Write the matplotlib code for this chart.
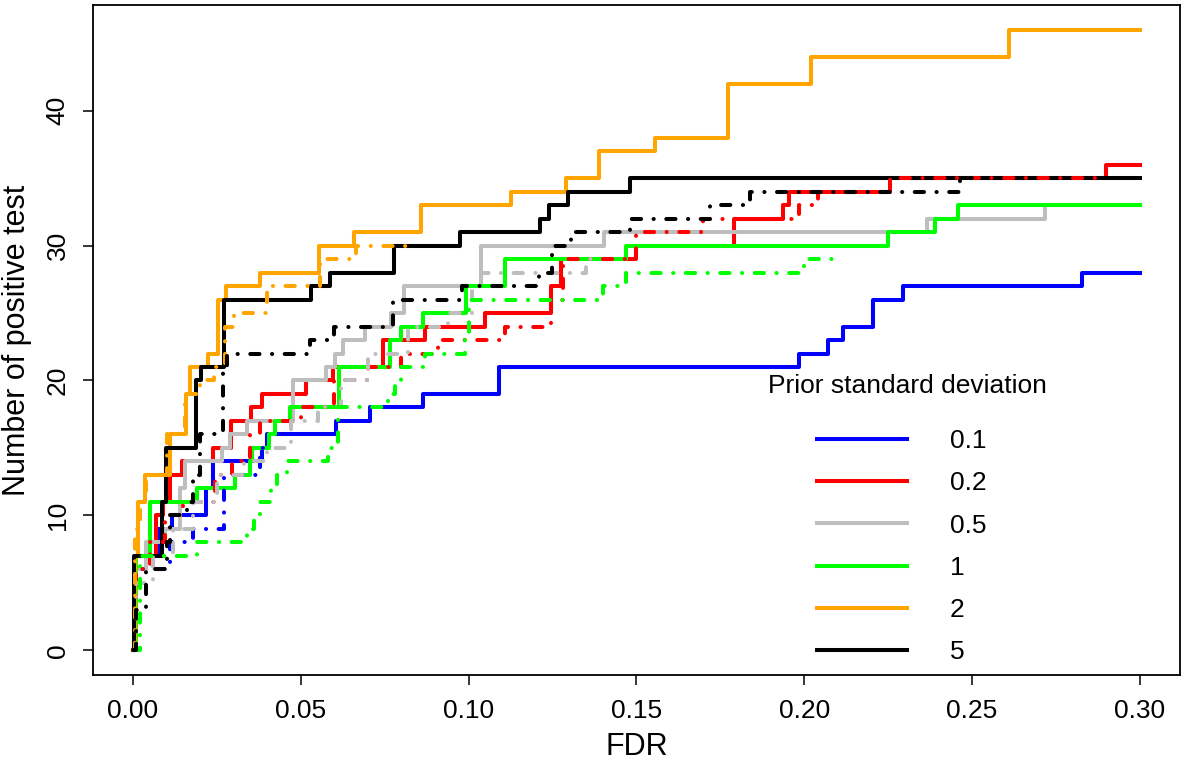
import matplotlib
matplotlib.use("Agg")
import matplotlib.pyplot as plt

plt.rcParams['font.family'] = ['Liberation Sans', 'DejaVu Sans']

# Dados: FDR (x) e número de testes positivos (y), em escada
sd_labels = ['0.1', '0.2', '0.5', '1', '2', '5']
cores = ['#0000FF', '#FF0000', '#BEBEBE', '#00FF00', '#FFA500', '#000000']

# linhas contínuas
blue_x = [0, 0.0005, 0.0075, 0.0115, 0.0219, 0.0239, 0.0385, 0.040, 0.0606, 0.0705, 0.0864, 0.109,
          0.1985, 0.207, 0.2117, 0.2205, 0.2294, 0.2827, 0.30]
blue_y = [0, 7, 9, 10, 12, 14, 15, 16, 17, 18, 19, 21, 22, 23, 24, 26, 27, 28, 28]

red_x = [0, 0.0005, 0.007, 0.009, 0.011, 0.0145, 0.0237, 0.0293, 0.0353, 0.0383, 0.0517, 0.0595,
         0.0745, 0.0869, 0.1048, 0.1246, 0.1276, 0.150, 0.179, 0.1938, 0.1955, 0.2255, 0.290, 0.30]
red_y = [0, 7, 10, 11, 13, 14, 15, 17, 18, 19, 20, 21, 23, 24, 25, 27, 29, 30, 32, 33, 34, 35, 36, 36]

grey_x = [0, 0.0005, 0.004, 0.0095, 0.014, 0.0155, 0.0264, 0.029, 0.034, 0.0476, 0.0576, 0.0602,
          0.0625, 0.069, 0.077, 0.0807, 0.1037, 0.1405, 0.2365, 0.2717, 0.30]
grey_y = [0, 6, 8, 9, 12, 14, 15, 16, 17, 20, 21, 22, 23, 24, 25, 27, 30, 31, 32, 33, 33]

green_x = [0, 0.001, 0.005, 0.019, 0.0304, 0.0348, 0.0355, 0.0405, 0.0423, 0.0467, 0.0615, 0.0765,
           0.080, 0.0863, 0.0993, 0.111, 0.147, 0.225, 0.239, 0.246, 0.30]
green_y = [0, 7, 11, 12, 13, 14, 15, 16, 17, 18, 21, 23, 24, 25, 27, 29, 30, 31, 32, 33, 33]

orange_x = [0, 0.0005, 0.0016, 0.0036, 0.011, 0.0157, 0.017, 0.0224, 0.0254, 0.0276, 0.038, 0.0554,
            0.0658, 0.0859, 0.1127, 0.129, 0.139, 0.1557, 0.1773, 0.2021, 0.261, 0.30]
orange_y = [0, 7, 11, 13, 16, 19, 21, 22, 26, 27, 28, 30, 31, 33, 34, 35, 37, 38, 42, 44, 46, 46]

black_x = [0, 0.0004, 0.0085, 0.0098, 0.0188, 0.0204, 0.027, 0.053, 0.0588, 0.0777, 0.0975, 0.1213,
           0.124, 0.1295, 0.148, 0.30]
black_y = [0, 7, 11, 15, 20, 21, 26, 27, 28, 30, 31, 32, 33, 34, 35, 35]

# linhas traço-ponto
blue2_x = [0, 0.001, 0.011, 0.018, 0.027, 0.038, 0.041]
blue2_y = [0, 6, 8, 9, 13, 15, 15]

red2_x = [0, 0.001, 0.005, 0.0095, 0.015, 0.0244, 0.0294, 0.0348, 0.038, 0.050, 0.060, 0.070, 0.080,
          0.091, 0.111, 0.1246, 0.128, 0.150, 0.170, 0.1985, 0.204, 0.2255, 0.290]
red2_y = [0, 6, 8, 10, 11, 13, 14, 16, 17, 18, 20, 21, 22, 23, 24, 26, 29, 31, 32, 33, 34, 35, 35]

grey2_x = [0, 0.001, 0.006, 0.012, 0.018, 0.025, 0.033, 0.040, 0.047, 0.055, 0.062, 0.070, 0.082,
           0.094, 0.101, 0.1037, 0.135, 0.137]
grey2_y = [0, 5, 7, 9, 11, 13, 14, 15, 17, 18, 20, 22, 24, 25, 27, 28, 29, 29]

green2_x = [0, 0.002, 0.019, 0.034, 0.036, 0.038, 0.041, 0.043, 0.046, 0.058, 0.061, 0.076, 0.078,
            0.080, 0.087, 0.099, 0.100, 0.140, 0.147, 0.200, 0.209]
green2_y = [0, 7, 8, 9, 10, 11, 12, 13, 14, 15, 18, 19, 20, 21, 22, 23, 26, 27, 28, 29, 29]

orange2_x = [0, 0.0005, 0.002, 0.004, 0.010, 0.0155, 0.020, 0.024, 0.0274, 0.030, 0.040, 0.0557,
             0.0666, 0.0834]
orange2_y = [0, 9, 11, 13, 16, 19, 20, 21, 24, 25, 27, 29, 30, 30]

black2_x = [0, 0.001, 0.004, 0.010, 0.011, 0.016, 0.018, 0.020, 0.0267, 0.0279, 0.0527, 0.060,
            0.0775, 0.098, 0.121, 0.125, 0.1305, 0.148, 0.172, 0.184, 0.2465, 0.250]
black2_y = [0, 3, 6, 8, 10, 11, 13, 16, 21, 22, 23, 24, 26, 27, 28, 30, 31, 32, 33, 34, 35, 35]

continuas = [(blue_x, blue_y), (red_x, red_y), (grey_x, grey_y),
             (green_x, green_y), (orange_x, orange_y), (black_x, black_y)]
tracejadas = [(blue2_x, blue2_y), (red2_x, red2_y), (grey2_x, grey2_y),
              (green2_x, green2_y), (orange2_x, orange2_y), (black2_x, black2_y)]

# Configuração da figura
fig = plt.figure(figsize=(11.84, 7.6), dpi=100)
ax = fig.add_axes([0.0783, 0.1118, 0.9183, 0.8816])
lw = 2.9

handles = []
for (x, y), c, lab in zip(continuas, cores, sd_labels):
    h, = ax.step(x, y, where='post', color=c, linewidth=lw, label=lab)
    handles.append(h)
for (x, y), c in zip(tracejadas, cores):
    ax.step(x, y, where='post', color=c, linewidth=lw,
            dashes=(2.3, 3.1, 0.05, 3.1), dash_capstyle='round')

ax.set_xlim(-0.012, 0.312)
ax.set_ylim(-1.84, 47.84)
ax.set_xticks([0.00, 0.05, 0.10, 0.15, 0.20, 0.25, 0.30])
ax.set_xticklabels(['0.00', '0.05', '0.10', '0.15', '0.20', '0.25', '0.30'])
ax.set_yticks([0, 10, 20, 30, 40])
ax.tick_params(axis='both', direction='out', length=7.5, width=1.1, labelsize=19)
ax.tick_params(axis='x', pad=10)
ax.tick_params(axis='y', labelrotation=90, pad=9)
for lab in ax.get_yticklabels():
    lab.set_va('center')
for s in ax.spines.values():
    s.set_linewidth(1.3)

ax.set_xlabel('FDR', fontsize=22, labelpad=6)
ax.set_ylabel('Number of positive test', fontsize=22, labelpad=10)

# Legenda sem moldura
ax.text(0.749, 0.431, 'Prior standard deviation', transform=ax.transAxes,
        ha='center', va='center', fontsize=19)
ax.legend(handles=handles, loc='upper left', bbox_to_anchor=(0.666, 0.367),
          frameon=False, fontsize=19, borderpad=0, borderaxespad=0,
          handlelength=3.41, handletextpad=1.63, labelspacing=0.69)

fig.savefig('out.png', dpi=100)
